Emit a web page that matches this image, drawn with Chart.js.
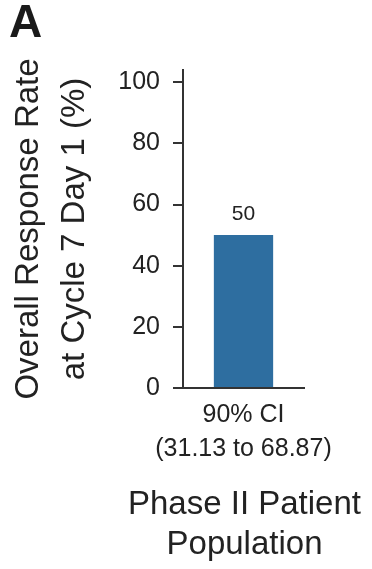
<!DOCTYPE html>
<html>
<head>
<meta charset="utf-8">
<script src="https://cdn.jsdelivr.net/npm/chart.js@4/dist/chart.umd.min.js"></script>
<style>
  body { margin: 0; background: #fff; }
  #wrap { position: relative; width: 372px; height: 569px; }
  #panel { position: absolute; left: 9px; top: -6px; font: bold 46px "Liberation Sans", Arial, sans-serif; color: #1a1a1a; }
</style>
</head>
<body>
<div id="wrap">
  <canvas id="grafico" width="372" height="569"></canvas>
  <div id="panel">A</div>
</div>
<script>
// dados do grafico
var categorias = [["90% CI", "(31.13 to 68.87)"]]
var valores = [50]
var marcasY = [0, 10, 20, 30, 40, 50, 60, 70, 80, 90, 100]
var rotulosY = [0, 20, 40, 60, 80, 100]
var tituloX = ['Phase II Patient', 'Population']

var fonte = '"Liberation Sans", Arial, sans-serif'
var corTexto = '#222'
var corEixo = '#333'

// tracinhos menores (10, 30, 50...) mais curtos, valor da barra e titulo do eixo x
var extras = {
    id: 'extras',
    afterDraw(chart) {
        var y = chart.scales.y
        var x = chart.scales.x
        var ctx = chart.ctx
        ctx.save()
        ctx.strokeStyle = corEixo
        ctx.lineWidth = 2
        y.ticks.forEach(t => {
            if (!rotulosY.includes(t.value)) {
                var py = y.getPixelForValue(t.value)
                ctx.beginPath()
                ctx.moveTo(chart.chartArea.left - 4, py)
                ctx.lineTo(chart.chartArea.left, py)
                ctx.stroke()
            }
        })
        var meta = chart.getDatasetMeta(0)
        ctx.fillStyle = corTexto
        ctx.font = '21px ' + fonte
        ctx.textAlign = 'center'
        ctx.textBaseline = 'bottom'
        meta.data.forEach((bar, i) => {
            ctx.fillText(valores[i], bar.x, bar.y - 10)
        })
        // titulo do eixo x (sem limite de largura)
        ctx.font = '33px ' + fonte
        ctx.textBaseline = 'middle'
        var cx = (x.left + x.right) / 2 + 1
        tituloX.forEach((linha, i) => {
            ctx.fillText(linha, cx, x.bottom - 64 + i * 40)
        })
        ctx.restore()
    }
}

new Chart(document.getElementById('grafico'), {
    type: 'bar',
    data: {
        labels: categorias,
        datasets: [{
            data: valores,
            backgroundColor: '#2e6ea0',
            barPercentage: 0.49,
            categoryPercentage: 1
        }]
    },
    options: {
        responsive: false,
        animation: false,
        layout: { padding: { left: 0, right: 68, top: 70, bottom: 0 } },
        plugins: {
            legend: { display: false },
            tooltip: { enabled: false }
        },
        scales: {
            x: {
                grid: { display: false, drawTicks: false },
                border: { display: true, color: corEixo, width: 2 },
                ticks: {
                    color: corTexto,
                    padding: 10,
                    font: { family: fonte, size: 25, lineHeight: 34 / 25 }
                },
                afterFit(scale) {
                    scale.height = 181
                    scale.paddingLeft = 0
                    scale.paddingRight = 0
                }
            },
            y: {
                min: 0,
                max: 104,
                grid: {
                    drawOnChartArea: false,
                    tickLength: 10,
                    lineWidth: 2,
                    tickColor: c => rotulosY.includes(c.tick.value) ? corEixo : 'rgba(0,0,0,0)'
                },
                border: { display: true, color: corEixo, width: 2 },
                afterBuildTicks(axis) {
                    axis.ticks = marcasY.map(v => ({ value: v }))
                },
                ticks: {
                    color: corTexto,
                    padding: 13,
                    font: { family: fonte, size: 25 },
                    callback: v => rotulosY.includes(v) ? v : ''
                },
                title: {
                    display: true,
                    text: ['Overall Response Rate', 'at Cycle 7 Day 1 (%)'],
                    color: corTexto,
                    font: { family: fonte, size: 33, lineHeight: 46 / 33 },
                    padding: { top: 6, bottom: 0 }
                },
                afterFit(scale) { scale.width = 183 }
            }
        }
    },
    plugins: [extras]
});
</script>
</body>
</html>
